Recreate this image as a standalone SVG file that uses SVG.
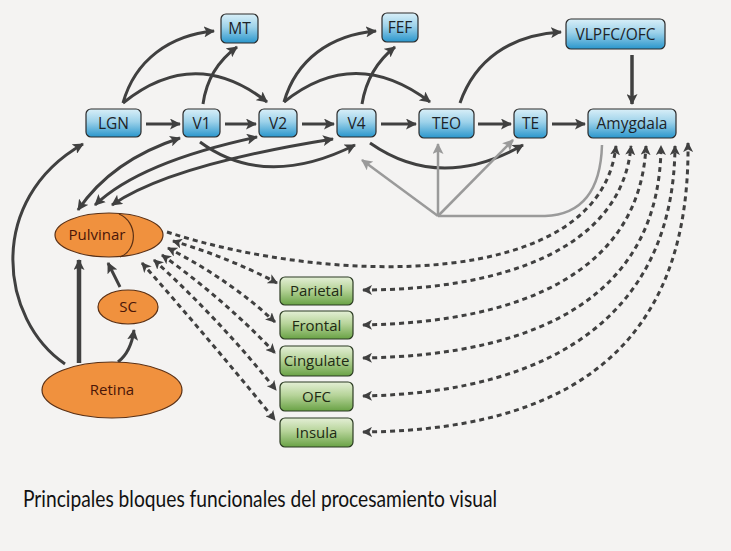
<svg xmlns="http://www.w3.org/2000/svg" width="731" height="551" viewBox="0 0 731 551">
<defs>
<linearGradient id="gb" x1="0" y1="0" x2="0" y2="1">
<stop offset="0" stop-color="#d9eff8"/><stop offset="0.45" stop-color="#9dd2ea"/><stop offset="1" stop-color="#2a96cc"/>
</linearGradient>
<linearGradient id="gg" x1="0" y1="0" x2="0" y2="1">
<stop offset="0" stop-color="#e4efd6"/><stop offset="0.45" stop-color="#b7d49a"/><stop offset="1" stop-color="#69a245"/>
</linearGradient>
<marker id="ah" markerUnits="userSpaceOnUse" markerWidth="12" markerHeight="11" refX="10" refY="5.5" orient="auto-start-reverse">
<path d="M0,0 L11,5.5 L0,11 L2.5,5.5 z" fill="#404040"/>
</marker>
<marker id="ahs" markerUnits="userSpaceOnUse" markerWidth="11" markerHeight="10" refX="9" refY="5" orient="auto-start-reverse">
<path d="M0,0 L10,5 L0,10 L2.5,5 z" fill="#404040"/>
</marker>
<marker id="ahg" markerUnits="userSpaceOnUse" markerWidth="12" markerHeight="11" refX="10" refY="5.5" orient="auto-start-reverse">
<path d="M0,0 L11,5.5 L0,11 L2.5,5.5 z" fill="#9a9a9a"/>
</marker>
</defs>
<style>
.bn{fill:url(#gb);stroke:#2b2b2b;stroke-width:1.2}
.gn{fill:url(#gg);stroke:#2b3b22;stroke-width:1.2}
.on{fill:#f0913e;stroke:#5a3015;stroke-width:1.2}
.t{font-family:"Open Sans","DejaVu Sans",sans-serif;font-size:15.5px;fill:#1d2328;text-anchor:middle}
.tg{font-family:"Open Sans","DejaVu Sans",sans-serif;font-size:15px;fill:#1e2a14;text-anchor:middle}
.to{font-family:"Open Sans","DejaVu Sans",sans-serif;font-size:15px;fill:#4a1608;text-anchor:middle}
.a{fill:none;stroke:#404040;stroke-width:3;marker-end:url(#ah)}
.a2{fill:none;stroke:#404040;stroke-width:3;marker-end:url(#ah);marker-start:url(#ah)}
.g{fill:none;stroke:#9a9a9a;stroke-width:2.5;marker-end:url(#ahg)}
.d{fill:none;stroke:#404040;stroke-width:3;stroke-dasharray:5 4;marker-end:url(#ahs);marker-start:url(#ahs)}
.d1{fill:none;stroke:#404040;stroke-width:3;stroke-dasharray:5 4;marker-end:url(#ahs)}
</style>
<rect x="0" y="0" width="731" height="551" fill="#f4f3f2"/>

<g id="connectors">
<path class="a" d="M146,124 L180,124"/>
<path class="a" d="M225,124 L256,124"/>
<path class="a" d="M302,124 L334,124"/>
<path class="a" d="M381,124 L416,124"/>
<path class="a" d="M478,124 L511,124"/>
<path class="a" d="M552,124 L585,124"/>
<path class="a" style="stroke-width:3.5" d="M632,55 L632,104"/>
<path class="a" d="M123,103 C135,60 170,35 214,31"/>
<path class="a" d="M123,103 Q195,45 267,102"/>
<path class="a" d="M203,104 Q208,68 237,47"/>
<path class="a" d="M284,102 C296,60 330,35 376,31"/>
<path class="a" d="M284,102 Q355,45 430,102"/>
<path class="a" d="M362,104 Q368,68 395,47"/>
<path class="a" d="M460,103 C475,60 510,35 561,32"/>
<path class="a" d="M200,142 Q265,190 355,145"/>
<path class="a" d="M370,143 Q440,192 523,145"/>
<path class="g" d="M438,216 L362,160"/>
<path class="g" d="M438,216 L438,144"/>
<path class="g" d="M438,216 L513,140"/>
<path fill="none" stroke="#9a9a9a" stroke-width="2.5" d="M438,216 L545,216 Q600,214 602,145"/>
<path class="a2" d="M78,210 Q112,160 180,138"/>
<path class="a2" d="M95,205 Q140,162 257,137"/>
<path class="a2" d="M112,205 Q170,165 333,139"/>
<path class="a" d="M65,364 C0,320 -15,200 83,144"/>
<path class="a" style="stroke-width:4.5" d="M79,363 L79,260"/>
<path class="a" d="M118,362 Q131,352 134,330"/>
<path class="a" d="M120,287 L108,263"/>
<path class="d" d="M173,241 Q230,258 277,283"/>
<path class="d" d="M168,248 Q230,280 275,322"/>
<path class="d" d="M162,255 Q225,300 275,353"/>
<path class="d" d="M154,260 Q220,320 276,390"/>
<path class="d" d="M142,263 Q210,340 275,420"/>
<path class="d1" d="M167,232 C330,285 600,292 616,146"/>
<path class="d" d="M363,290 C500,290 622,250 631,146"/>
<path class="d" d="M363,325 C525,322 640,270 646,146"/>
<path class="d" d="M363,358 C545,355 660,292 661,146"/>
<path class="d" d="M363,396 C565,392 674,305 675,146"/>
<path class="d" d="M363,432 C600,430 690,320 688,143"/>
</g>

<g id="MT"><rect class="bn" x="221" y="14" width="37" height="29" rx="5"/><text class="t" x="239.5" y="34">MT</text></g>
<g id="FEF"><rect class="bn" x="382" y="13" width="36" height="29" rx="5"/><text class="t" x="400" y="33">FEF</text></g>
<g id="VLPFC"><rect class="bn" x="566" y="19" width="99" height="30" rx="5"/><text class="t" x="615.5" y="40">VLPFC/OFC</text></g>
<g id="LGN"><rect class="bn" x="86" y="109" width="55" height="28" rx="5"/><text class="t" x="113.5" y="129">LGN</text></g>
<g id="V1"><rect class="bn" x="183" y="109" width="37" height="28" rx="5"/><text class="t" x="201.5" y="129">V1</text></g>
<g id="V2"><rect class="bn" x="259" y="109" width="38" height="28" rx="5"/><text class="t" x="278" y="129">V2</text></g>
<g id="V4"><rect class="bn" x="337" y="109" width="39" height="28" rx="5"/><text class="t" x="356.5" y="129">V4</text></g>
<g id="TEO"><rect class="bn" x="419" y="109" width="55" height="29" rx="5"/><text class="t" x="446.5" y="129">TEO</text></g>
<g id="TE"><rect class="bn" x="514" y="109" width="33" height="29" rx="5"/><text class="t" x="530.5" y="129">TE</text></g>
<g id="Amygdala"><rect class="bn" x="588" y="109" width="88" height="29" rx="5"/><text class="t" x="632" y="129">Amygdala</text></g>

<g id="Pulvinar"><ellipse class="on" cx="109" cy="235" rx="54" ry="22"/><path d="M119,214 C138,222 138,250 120,257" fill="none" stroke="#5a3015" stroke-width="1.2"/><text class="to" x="97" y="240">Pulvinar</text></g>
<g id="SC"><ellipse class="on" cx="128" cy="307" rx="30" ry="17"/><text class="to" x="128" y="312">SC</text></g>
<g id="Retina"><ellipse class="on" cx="112" cy="390" rx="70" ry="28"/><text class="to" x="112" y="395">Retina</text></g>

<g id="Parietal"><rect class="gn" x="280" y="277" width="73" height="28" rx="5"/><text class="tg" x="316.5" y="296">Parietal</text></g>
<g id="Frontal"><rect class="gn" x="280" y="311" width="73" height="28" rx="5"/><text class="tg" x="316.5" y="331">Frontal</text></g>
<g id="Cingulate"><rect class="gn" x="280" y="346" width="73" height="30" rx="5"/><text class="tg" x="316.5" y="366">Cingulate</text></g>
<g id="OFC"><rect class="gn" x="280" y="382" width="73" height="29" rx="5"/><text class="tg" x="316.5" y="402">OFC</text></g>
<g id="Insula"><rect class="gn" x="280" y="418" width="73" height="29" rx="5"/><text class="tg" x="316.5" y="438">Insula</text></g>

<text x="23" y="507" font-family="Lato,'Open Sans',sans-serif" font-size="22.5" fill="#111" textLength="474" lengthAdjust="spacingAndGlyphs">Principales bloques funcionales del procesamiento visual</text>
</svg>
